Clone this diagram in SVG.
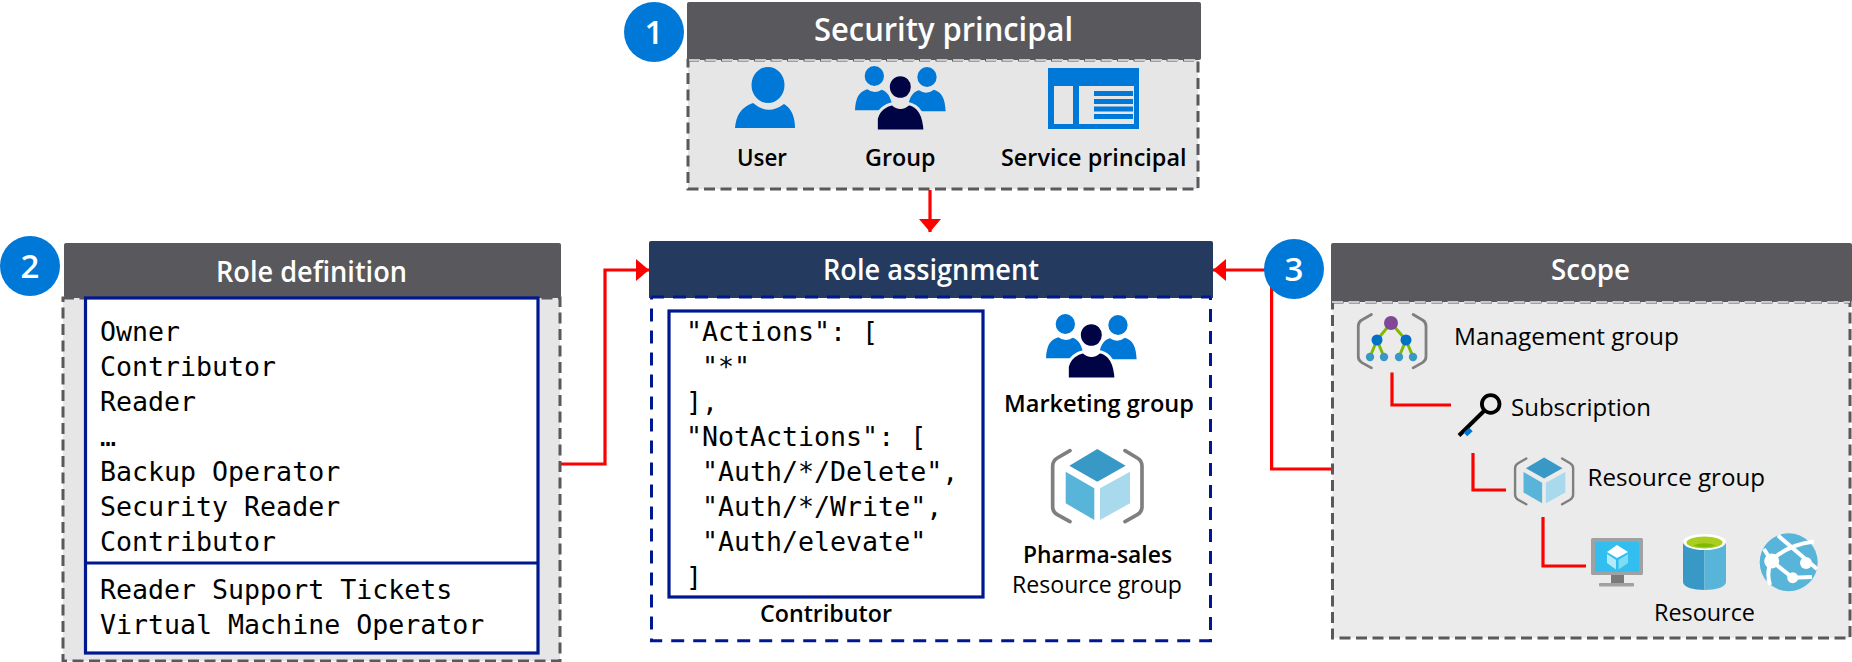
<svg xmlns="http://www.w3.org/2000/svg" width="1852" height="662" viewBox="0 0 1852 662">
<style>
text{font-family:"Open Sans","Noto Sans","Liberation Sans",sans-serif;fill:#000}
.hd{fill:#59585d}
.bd{fill:#e6e6e6;stroke:#59585d;stroke-width:3;stroke-dasharray:11 5.5}
.lt{fill:none;stroke:#c8c8c8;stroke-width:2;stroke-dasharray:11 5.5}
.num{fill:#0078d7}
.numt{font-size:33px;fill:#fff;font-weight:600;text-anchor:middle}
.ht{fill:#fff;font-weight:600}
.lb{font-size:24px;font-weight:600}
.lr{font-size:24px;font-weight:400}
.mono{font-family:"DejaVu Sans Mono","Liberation Mono",monospace;font-size:26.6px;fill:#000}
.box{fill:#fff;stroke:#00188f;stroke-width:3.2}
.red{fill:none;stroke:#ff0000;stroke-width:3.2}
.brk{fill:none;stroke:#7f7f7f;stroke-width:11;stroke-linecap:round}
</style>
<defs>
<marker id="ah" markerUnits="userSpaceOnUse" markerWidth="14" markerHeight="22" refX="13" refY="11" orient="auto"><path d="M0 0L13 11L0 22Z" fill="#ff0000"/></marker>
<path id="brackets" class="brk" d="M120 452L82 474Q68 482 68 498L68 620Q68 636 82 644L120 665M285 452L322 474Q336 482 336 498L336 620Q336 636 322 644L285 665"/>
<g id="cube">
<use href="#brackets"/>
<path d="M202 447L287 497L202 545L118 497Z" fill="#3999c6"/>
<path d="M107 515L193 565L193 660L107 610Z" fill="#59b4d9"/>
<path d="M300 515L210 565L210 660L300 610Z" fill="#a9d9ed"/>
</g>
<g id="people" transform="scale(.3333)">
<ellipse cx="106" cy="72" rx="29" ry="30" fill="#0078d7" stroke="none"/>
<ellipse cx="264" cy="75" rx="29" ry="30" fill="#0078d7" stroke="none"/>
<path d="M48 175C50 140 58 120 85 112Q106 128 128 113C145 118 155 135 160 160L120 175Z" fill="#0078d7" stroke="none"/>
<path d="M320 178C318 140 310 122 285 113Q262 130 240 115C222 120 212 135 208 160L250 178Z" fill="#0078d7" stroke="none"/>
<path d="M112 237L112 200C118 175 140 158 160 155Q184 178 210 155C235 160 255 180 258 237Z" fill="#000445" stroke-width="9"/>
<ellipse cx="184" cy="105" rx="36" ry="37" fill="#000445" stroke-width="9"/>
</g>
</defs>

<g id="connectors">
<path class="red" d="M930 190V232" marker-end="url(#ah)"/>
<path class="red" d="M561 464H605V270H649" marker-end="url(#ah)"/>
<path class="red" d="M1332 469H1271.6V270H1213" marker-end="url(#ah)"/>
</g>

<g id="security-principal">
<rect class="bd" x="688" y="60" width="510" height="129"/>
<rect class="hd" x="687" y="2" width="514" height="58" rx="2"/>
<path class="lt" d="M689 60H1198"/>
<text class="ht" x="814" y="41" font-size="32" textLength="259" lengthAdjust="spacingAndGlyphs">Security principal</text>
<circle class="num" cx="654" cy="32" r="30"/>
<text class="numt" x="654" y="44">1</text>
<g id="user-icon">
<ellipse cx="768" cy="85" rx="16.5" ry="18" fill="#0078d7"/>
<path d="M735 128C736 116 741 107 753 103Q768 116 784 104C791 108 795 116 795 128Z" fill="#0078d7"/>
</g>
<text class="lb" x="737" y="166" textLength="50" lengthAdjust="spacingAndGlyphs">User</text>
<use href="#people" transform="translate(839,52)" stroke="#e6e6e6"/>
<text class="lb" x="865" y="166" textLength="70.5" lengthAdjust="spacingAndGlyphs">Group</text>
<g id="service-icon">
<rect x="1048" y="68" width="91" height="61" fill="#0078d7"/>
<rect x="1054" y="86" width="19" height="38" fill="#e6e6e6"/>
<rect x="1079" y="86" width="55" height="38" fill="#e6e6e6"/>
<path d="M1094 91h39v5h-39zM1094 99h39v5h-39zM1094 106.500h39v5h-39zM1094 114h39v5h-39z" fill="#0078d7"/>
</g>
<text class="lb" x="1001" y="166" textLength="185.500" lengthAdjust="spacingAndGlyphs">Service principal</text>
</g>

<g id="role-definition">
<rect class="bd" x="63" y="298" width="497" height="363"/>
<rect class="hd" x="64" y="243" width="497" height="55" rx="2"/>
<text class="ht" x="216" y="282" font-size="28" textLength="191" lengthAdjust="spacingAndGlyphs">Role definition</text>
<rect class="box" x="85.500" y="298" width="452.500" height="355"/>
<path class="box" d="M85.500 563H538"/>
<g class="mono-list">
<text class="mono" x="100" y="341">Owner</text>
<text class="mono" x="100" y="376">Contributor</text>
<text class="mono" x="100" y="411">Reader</text>
<text class="mono" x="100" y="446">…</text>
<text class="mono" x="100" y="481">Backup Operator</text>
<text class="mono" x="100" y="516">Security Reader</text>
<text class="mono" x="100" y="551">Contributor</text>
<text class="mono" x="100" y="599">Reader Support Tickets</text>
<text class="mono" x="100" y="634">Virtual Machine Operator</text>
</g>
<circle class="num" cx="30" cy="266" r="30"/>
<text class="numt" x="30" y="278">2</text>
</g>

<g id="role-assignment">
<rect x="651.500" y="296" width="559" height="344.700" fill="#fff" stroke="#00188f" stroke-width="3" stroke-dasharray="13 9"/>
<path d="M649 243Q649 241 651 241H1211Q1213 241 1213 243V298H649Z" fill="#243a5e"/>
<path d="M651 297H1211" fill="none" stroke="#00188f" stroke-width="3" stroke-dasharray="13 9"/>
<text class="ht" x="823" y="280" font-size="28" textLength="216" lengthAdjust="spacingAndGlyphs">Role assignment</text>
<rect class="box" x="669" y="311" width="314" height="286"/>
<text class="mono" x="686" y="341">"Actions": [</text>
<text class="mono" x="702" y="376">"*"</text>
<text class="mono" x="686" y="411">],</text>
<text class="mono" x="686" y="446">"NotActions": [</text>
<text class="mono" x="702" y="481">"Auth/*/Delete",</text>
<text class="mono" x="702" y="516">"Auth/*/Write",</text>
<text class="mono" x="702" y="551">"Auth/elevate"</text>
<text class="mono" x="686" y="586">]</text>
<text class="lb" x="760" y="622" textLength="132" lengthAdjust="spacingAndGlyphs">Contributor</text>
<use href="#people" transform="translate(1030,300)" stroke="#fff"/>
<text class="lb" x="1004" y="412" textLength="190" lengthAdjust="spacingAndGlyphs">Marketing group</text>
<use href="#cube" transform="translate(1030,300) scale(.3333)"/>
<text class="lb" x="1023" y="563" textLength="149" lengthAdjust="spacingAndGlyphs">Pharma-sales</text>
<text class="lr" x="1012" y="593" textLength="170" lengthAdjust="spacingAndGlyphs">Resource group</text>
</g>

<g id="scope">
<rect x="1332.500" y="302" width="517.500" height="336" fill="#ebebeb" stroke="#59585d" stroke-width="3" stroke-dasharray="11 5.500"/>
<rect class="hd" x="1331" y="243" width="521" height="59" rx="2"/>
<path class="lt" d="M1332 302H1850"/>
<text class="ht" x="1551" y="280" font-size="28" textLength="79" lengthAdjust="spacingAndGlyphs">Scope</text>
<circle class="num" cx="1294" cy="269" r="30"/>
<text class="numt" x="1294" y="281">3</text>
<path class="red" d="M1392 372.500V405H1451M1473 453V490H1506M1543 517V566H1586"/>
<g id="mgmt-icon">
<use href="#brackets" transform="translate(1341.100,201) scale(.2527 .251)"/>
<path d="M1391 323L1377 340L1370 357M1377 340L1384 357M1391 323L1406 340L1399 357M1406 340L1413 357" fill="none" stroke="#7fba00" stroke-width="3"/>
<circle cx="1391" cy="323" r="7" fill="#804998"/>
<circle cx="1377" cy="340" r="5.500" fill="#0072c6"/>
<circle cx="1406" cy="340" r="5.500" fill="#0072c6"/>
<g fill="#3999c6"><circle cx="1370" cy="357" r="4.200"/><circle cx="1384" cy="357" r="4.200"/><circle cx="1399" cy="357" r="4.200"/><circle cx="1413" cy="357" r="4.200"/></g>
</g>
<text class="lr" x="1454" y="345" textLength="225" lengthAdjust="spacingAndGlyphs">Management group</text>
<g id="key-icon">
<circle cx="1490.700" cy="404" r="8.800" fill="none" stroke="#000" stroke-width="3.800"/>
<path d="M1484 411L1459 435.500" stroke="#000" stroke-width="4" fill="none"/>
<path d="M1465.500 434.500L1471 429.500" stroke="#0078d7" stroke-width="5" fill="none"/>
</g>
<text class="lr" x="1511" y="416" textLength="140" lengthAdjust="spacingAndGlyphs">Subscription</text>
<use href="#cube" transform="translate(1500.350,361.200) scale(.2166 .2152)"/>
<text class="lr" x="1587.500" y="486" textLength="177.500" lengthAdjust="spacingAndGlyphs">Resource group</text>
<g id="vm-icon">
<rect x="1591" y="538" width="52" height="37" rx="1.500" fill="#a0a1a2"/>
<rect x="1595" y="542" width="44" height="30" fill="#32bfef"/>
<path d="M1611 575H1624V583H1611Z" fill="#7a7a7a"/>
<rect x="1599" y="583" width="35" height="3.500" rx="1" fill="#a0a1a2"/>
<path d="M1617 545L1628 552L1617 558L1607 552Z" fill="#fff"/>
<path d="M1607 554L1616 560V569.500L1607 563Z" fill="#b3ebfa"/>
<path d="M1628 554L1618.500 560V569.500L1628 563Z" fill="#7fdcf5"/>
</g>
<g id="db-icon">
<path d="M1683 542V582C1683 587 1693 590 1704.500 590V542Z" fill="#3999c6"/>
<path d="M1726 542V582C1726 587 1716 590 1704.500 590V542Z" fill="#59b4d9"/>
<ellipse cx="1704.500" cy="542" rx="21.500" ry="8" fill="#fff"/>
<ellipse cx="1704.500" cy="542.500" rx="18" ry="6" fill="#a8cf20"/>
<path d="M1693 545.500Q1704.500 541 1716 545.500Q1704.500 549 1693 545.500Z" fill="#7fba00"/>
</g>
<g id="globe-icon">
<circle cx="1788.700" cy="562.300" r="29" fill="#59b4d9"/>
<path d="M1778 535.500L1817 569M1770.500 561Q1788 544.500 1814 541.500M1771.500 561L1792.700 577.700L1812 577M1771.500 561Q1766 572 1770 585M1771.500 561L1764 549" fill="none" stroke="#fff" stroke-width="4"/>
<circle cx="1771.700" cy="561" r="7.500" fill="#fff"/>
<circle cx="1806" cy="563" r="6" fill="#fff"/>
<circle cx="1792.700" cy="577.700" r="5.500" fill="#fff"/>
</g>
<text class="lr" x="1654" y="621" textLength="101" lengthAdjust="spacingAndGlyphs">Resource</text>
</g>
</svg>
